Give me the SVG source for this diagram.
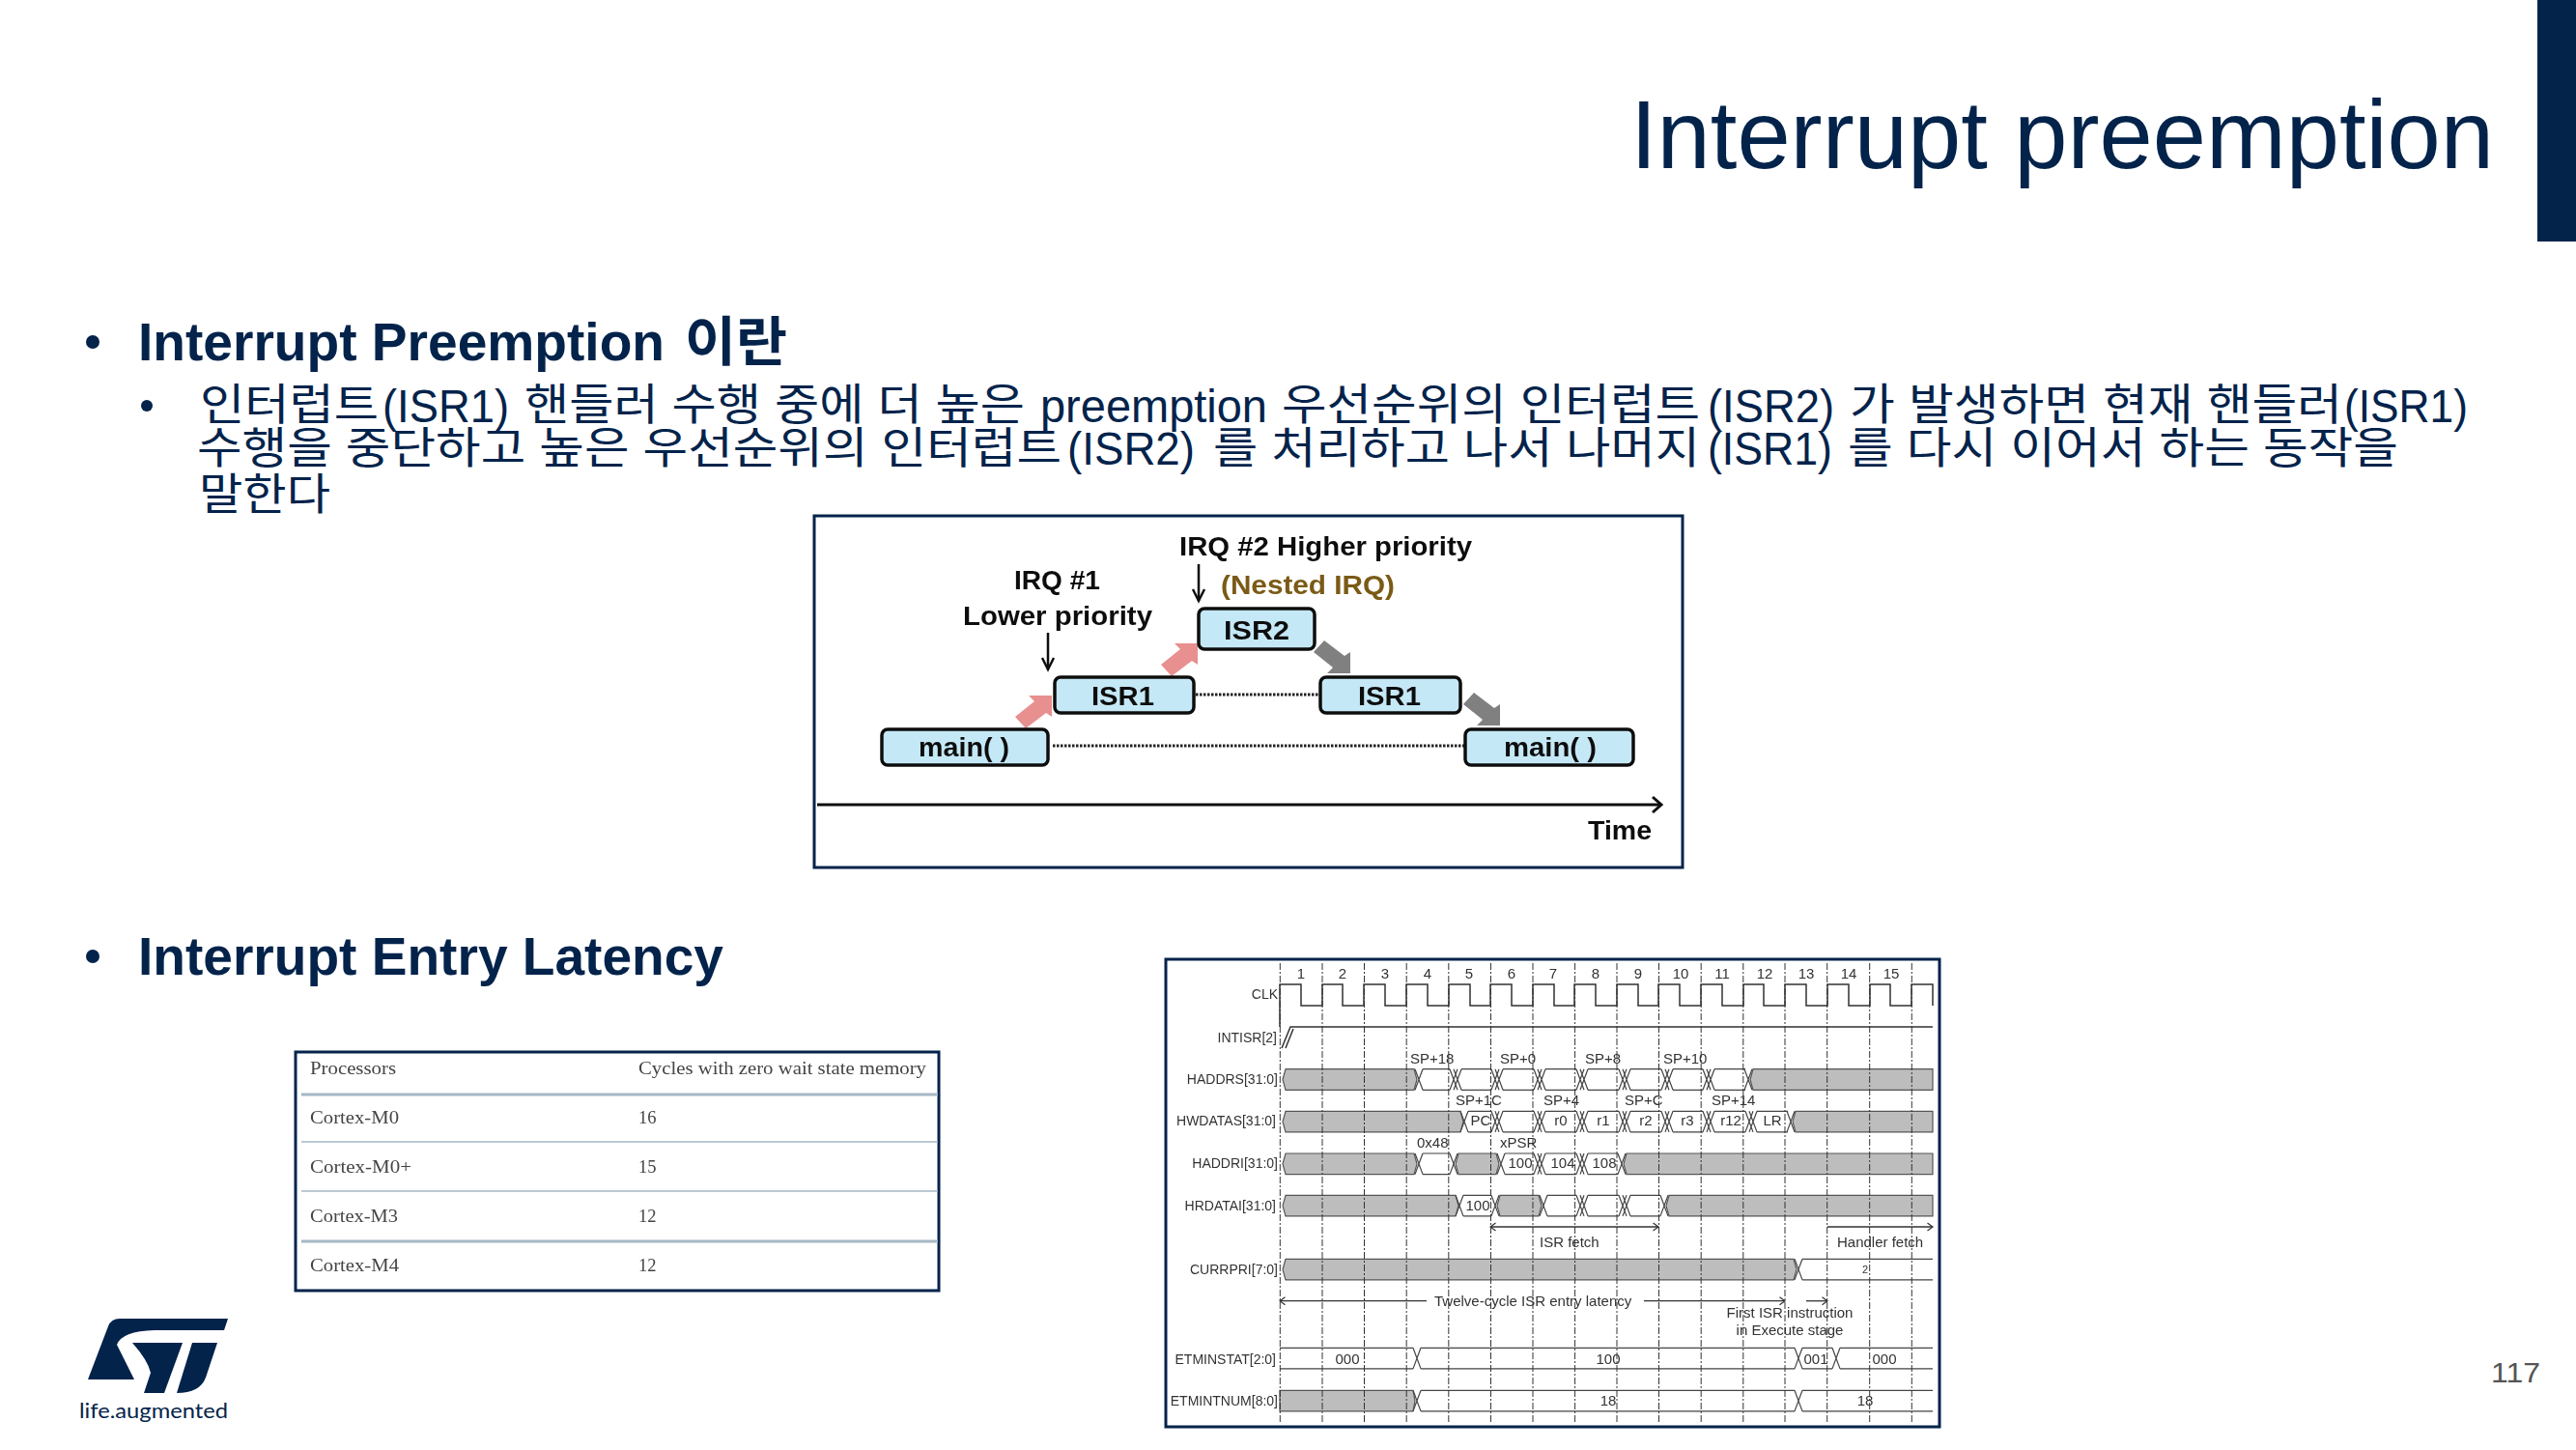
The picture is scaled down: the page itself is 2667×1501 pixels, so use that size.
<svg xmlns="http://www.w3.org/2000/svg" width="2667" height="1501" viewBox="0 0 2667 1501">
<style>
text{font-family:"Liberation Sans","Noto Sans CJK KR",sans-serif}
.nv{fill:#03234b}
.h1{font-size:55px;font-weight:bold;fill:#03234b}
.h2{font-size:45px;fill:#03234b}
.la{font-size:49px}
.frame{fill:#fff;stroke:#03234b;stroke-width:3}
.node{fill:#c5e8f6;stroke:#111;stroke-width:3.5}
.b{font-size:27px;font-weight:bold;fill:#111}
.dot{stroke:#222;stroke-width:3;stroke-dasharray:2.5 1.5;fill:none}
.thin{stroke:#111;stroke-width:2.5;fill:none}
.ser{font-family:"Liberation Serif",serif;font-size:18.5px;fill:#444}
.rule{stroke:#a5b8c5;fill:none}
.t{font-size:15px;fill:#333}
.s{font-size:14px;fill:#333;text-anchor:end}
.c{text-anchor:middle}
.g{fill:#bdbdbd;stroke:#555;stroke-width:1.2}
.w{fill:none;stroke:#444;stroke-width:1.2}
.sig{fill:none;stroke:#333;stroke-width:1.5}
.grid{stroke:#333;stroke-width:1;stroke-dasharray:7 2 2 2;fill:none}
.ar{fill:none;stroke:#333;stroke-width:1.3}
</style>
<defs>
<filter id="soft" x="-2%" y="-2%" width="104%" height="104%"><feGaussianBlur stdDeviation="0.4"/></filter>
<marker id="open" markerWidth="10" markerHeight="10" refX="8.5" refY="5" orient="auto-start-reverse" markerUnits="userSpaceOnUse"><path d="M3,1L8.5,5L3,9" fill="none" stroke="#333" stroke-width="1.2"/></marker>
<marker id="big" markerWidth="22" markerHeight="22" refX="19" refY="11" orient="auto" markerUnits="userSpaceOnUse"><path d="M10,3L19,11L10,19" fill="none" stroke="#111" stroke-width="3"/></marker>
<path id="fat" d="M0,0L-24,0L-18,6L-38,22L-27,34L-6,18L0,22Z"/>
<path id="x1" class="w" d="M-4,0L4,21.6M4,0L-4,21.6"/>
<path id="x2" class="w" d="M-6,0L2,21.6M2,0L-6,21.6M-2,0L6,21.6M6,0L-2,21.6"/>
</defs>

<g id="header">
<rect x="2627" y="0" width="40" height="250" class="nv"/>
<text x="1688" y="174" font-size="100" class="nv" textLength="894" lengthAdjust="spacingAndGlyphs">Interrupt preemption</text>
</g>

<g id="body-text">
<circle cx="96" cy="354" r="7" class="nv"/>
<text class="h1"><tspan x="143" y="373" textLength="545" lengthAdjust="spacingAndGlyphs">Interrupt Preemption</tspan> <tspan x="709" y="373" textLength="106" lengthAdjust="spacingAndGlyphs">이란</tspan></text>
<circle cx="152" cy="420" r="6" class="nv"/>
<text class="h2"><tspan x="207" y="435" textLength="185" lengthAdjust="spacingAndGlyphs">인터럽트</tspan><tspan class="la" x="396" y="437" textLength="131" lengthAdjust="spacingAndGlyphs">(ISR1)</tspan> <tspan x="543" y="435" textLength="518" lengthAdjust="spacingAndGlyphs">핸들러 수행 중에 더 높은</tspan> <tspan class="la" x="1077" y="437" textLength="235" lengthAdjust="spacingAndGlyphs">preemption</tspan> <tspan x="1327" y="435" textLength="433" lengthAdjust="spacingAndGlyphs">우선순위의 인터럽트</tspan><tspan class="la" x="1768" y="437" textLength="131" lengthAdjust="spacingAndGlyphs">(ISR2)</tspan> <tspan x="1915" y="435" textLength="510" lengthAdjust="spacingAndGlyphs">가 발생하면 현재 핸들러</tspan><tspan class="la" x="2427" y="437" textLength="128" lengthAdjust="spacingAndGlyphs">(ISR1)</tspan></text>
<text class="h2"><tspan x="204" y="480" textLength="895" lengthAdjust="spacingAndGlyphs">수행을 중단하고 높은 우선순위의 인터럽트</tspan><tspan class="la" x="1105" y="481" textLength="132" lengthAdjust="spacingAndGlyphs">(ISR2)</tspan> <tspan x="1256" y="480" textLength="504" lengthAdjust="spacingAndGlyphs">를 처리하고 나서 나머지</tspan><tspan class="la" x="1768" y="481" textLength="129" lengthAdjust="spacingAndGlyphs">(ISR1)</tspan> <tspan x="1913" y="480" textLength="570" lengthAdjust="spacingAndGlyphs">를 다시 이어서 하는 동작을</tspan></text>
<text class="h2" x="206" y="528" textLength="136" lengthAdjust="spacingAndGlyphs">말한다</text>
<circle cx="96" cy="990" r="7" class="nv"/>
<text x="143" y="1009" class="h1" textLength="606" lengthAdjust="spacingAndGlyphs">Interrupt Entry Latency</text>
<text x="2579" y="1431" font-size="30" fill="#555" textLength="51" lengthAdjust="spacingAndGlyphs">117</text>
</g>

<g id="preemption-diagram">
<rect x="843" y="534" width="899" height="364" class="frame"/>
<g filter="url(#soft)">
<g id="connectors">
<line class="dot" x1="1238" y1="719" x2="1366" y2="719"/>
<line class="dot" x1="1090" y1="772" x2="1516" y2="772"/>
<line x1="846" y1="833" x2="1720" y2="833" stroke="#111" stroke-width="3" marker-end="url(#big)"/>
<line class="thin" x1="1085" y1="655" x2="1085" y2="692"/>
<path class="thin" d="M1079,681L1085,693L1091,681"/>
<line class="thin" x1="1241" y1="584" x2="1241" y2="622"/>
<path class="thin" d="M1235,610L1241,622L1247,610"/>
<use href="#fat" fill="#e88f8f" transform="translate(1089,720)"/>
<use href="#fat" fill="#e88f8f" transform="translate(1240,666)"/>
<use href="#fat" fill="#808080" transform="translate(1398,697) scale(1,-1)"/>
<use href="#fat" fill="#808080" transform="translate(1553,751) scale(1,-1)"/>
</g>
<g id="node-main-1"><rect class="node" x="913" y="755" width="172" height="37" rx="6"/><text class="b" x="951" y="783" textLength="94" lengthAdjust="spacingAndGlyphs">main( )</text></g>
<g id="node-isr1-1"><rect class="node" x="1092" y="701" width="144" height="37" rx="6"/><text class="b" x="1130" y="730" textLength="65" lengthAdjust="spacingAndGlyphs">ISR1</text></g>
<g id="node-isr2"><rect class="node" x="1241" y="630" width="120" height="42" rx="6"/><text class="b" x="1267" y="662" textLength="68" lengthAdjust="spacingAndGlyphs">ISR2</text></g>
<g id="node-isr1-2"><rect class="node" x="1367" y="701" width="145" height="37" rx="6"/><text class="b" x="1406" y="730" textLength="65" lengthAdjust="spacingAndGlyphs">ISR1</text></g>
<g id="node-main-2"><rect class="node" x="1517" y="755" width="174" height="37" rx="6"/><text class="b" x="1557" y="783" textLength="96" lengthAdjust="spacingAndGlyphs">main( )</text></g>
<g id="preemption-labels">
<text class="b" x="1221" y="575" textLength="303" lengthAdjust="spacingAndGlyphs">IRQ #2 Higher priority</text>
<text class="b" x="1264" y="615" style="fill:#7a5a14" textLength="180" lengthAdjust="spacingAndGlyphs">(Nested IRQ)</text>
<text class="b" x="1050" y="610" textLength="89" lengthAdjust="spacingAndGlyphs">IRQ #1</text>
<text class="b" x="997" y="647" textLength="196" lengthAdjust="spacingAndGlyphs">Lower priority</text>
<text class="b" x="1644" y="869" textLength="66" lengthAdjust="spacingAndGlyphs">Time</text>
</g>
</g>
</g>

<g id="latency-table">
<rect x="306" y="1089" width="666" height="247" class="frame"/>
<g filter="url(#soft)">
<path class="rule" stroke-width="3" d="M312,1133H971M312,1285H971"/>
<path class="rule" stroke-width="1.5" d="M312,1182H971M312,1233H971"/>
<text class="ser" x="321" y="1112" textLength="89" lengthAdjust="spacingAndGlyphs">Processors</text>
<text class="ser" x="661" y="1112" textLength="298" lengthAdjust="spacingAndGlyphs">Cycles with zero wait state memory</text>
<text class="ser" x="321" y="1163" textLength="92" lengthAdjust="spacingAndGlyphs">Cortex-M0</text><text class="ser" x="661" y="1163">16</text>
<text class="ser" x="321" y="1214" textLength="105" lengthAdjust="spacingAndGlyphs">Cortex-M0+</text><text class="ser" x="661" y="1214">15</text>
<text class="ser" x="321" y="1265" textLength="91" lengthAdjust="spacingAndGlyphs">Cortex-M3</text><text class="ser" x="661" y="1265">12</text>
<text class="ser" x="321" y="1316" textLength="92" lengthAdjust="spacingAndGlyphs">Cortex-M4</text><text class="ser" x="661" y="1316">12</text>
</g>
</g>

<g id="logo">
<path class="nv" d="M91,1428L112,1373Q115,1365 124,1365H236L232,1377H160Q126,1378 121,1392L139,1428Z"/>
<path class="nv" d="M137,1390H189L170,1442H149L156,1421Q153,1408 137,1390Z"/>
<path class="nv" d="M199,1390H225L213,1426Q207,1442 183,1442Z"/>
<text x="82" y="1468" font-size="22" class="nv" textLength="154" lengthAdjust="spacingAndGlyphs" style="font-family:Lato,'Liberation Sans',sans-serif">life.augmented</text>
</g>

<g id="timing-diagram">
<rect x="1207" y="993" width="801" height="484" class="frame"/>
<g filter="url(#soft)">
<path class="sig" d="M1325,1063V1019H1347V1041H1369V1019H1390V1041H1412V1019H1434V1041H1456V1019H1478V1041H1500V1019H1522V1041H1543V1019H1565V1041H1587V1019H1609V1041H1630V1019H1652V1041H1674V1019H1696V1041H1717V1019H1739V1041H1761V1019H1783V1041H1805V1019H1826V1041H1848V1019H1870V1041H1892V1019H1914V1041H1936V1019H1957V1041H1979V1019H2001V1041"/>
<path class="sig" d="M1327,1085L1336,1063H2001M1331,1085L1339,1065"/>

<g transform="translate(0,1106.7)">
<path class="g" d="M1328,10.8L1331,0H1464L1467,10.8L1464,21.6H1331Z"/>
<use href="#x1" x="1469"/>
<path class="w" d="M1473,0H1501M1473,21.6H1501M1513,0H1544M1513,21.6H1544M1556,0H1588M1556,21.6H1588M1600,0H1632M1600,21.6H1632M1644,0H1676M1644,21.6H1676M1688,0H1720M1688,21.6H1720M1732,0H1763M1732,21.6H1763M1775,0H1807M1775,21.6H1807"/>
<use href="#x2" x="1507"/><use href="#x2" x="1550"/><use href="#x2" x="1594"/><use href="#x2" x="1638"/><use href="#x2" x="1682"/><use href="#x2" x="1726"/><use href="#x2" x="1769"/>
<use href="#x1" x="1810"/>
<path class="g" d="M1812,10.8L1815,0H2001V21.6H1815Z"/>
</g>

<g transform="translate(0,1150.3)">
<path class="g" d="M1328,10.8L1331,0H1512L1515,10.8L1512,21.6H1331Z"/>
<use href="#x1" x="1516"/>
<path class="w" d="M1520,0H1544M1520,21.6H1544M1556,0H1588M1556,21.6H1588M1600,0H1632M1600,21.6H1632M1644,0H1676M1644,21.6H1676M1688,0H1720M1688,21.6H1720M1732,0H1763M1732,21.6H1763M1775,0H1807M1775,21.6H1807M1819,0H1851M1819,21.6H1851"/>
<use href="#x2" x="1550"/><use href="#x2" x="1594"/><use href="#x2" x="1638"/><use href="#x2" x="1682"/><use href="#x2" x="1726"/><use href="#x2" x="1769"/><use href="#x2" x="1813"/>
<use href="#x1" x="1854"/>
<path class="g" d="M1856,10.8L1859,0H2001V21.6H1859Z"/>
</g>

<g transform="translate(0,1194)">
<path class="g" d="M1328,10.8L1331,0H1464L1467,10.8L1464,21.6H1331Z"/>
<use href="#x1" x="1469"/>
<path class="w" d="M1473,0H1501M1473,21.6H1501"/>
<use href="#x1" x="1505"/>
<path class="g" d="M1507,10.8L1510,0H1549L1552,10.8L1549,21.6H1510Z"/>
<use href="#x1" x="1554"/>
<path class="w" d="M1558,0H1588M1558,21.6H1588M1600,0H1632M1600,21.6H1632M1644,0H1675M1644,21.6H1675"/>
<use href="#x2" x="1594"/><use href="#x2" x="1638"/>
<use href="#x1" x="1679"/>
<path class="g" d="M1681,10.8L1684,0H2001V21.6H1684Z"/>
</g>

<g transform="translate(0,1237.3)">
<path class="g" d="M1328,10.8L1331,0H1507L1510,10.8L1507,21.6H1331Z"/>
<use href="#x1" x="1511"/>
<path class="w" d="M1515,0H1544M1515,21.6H1544"/>
<use href="#x1" x="1548"/>
<path class="g" d="M1550,10.8L1553,0H1593L1596,10.8L1593,21.6H1553Z"/>
<use href="#x1" x="1598"/>
<path class="w" d="M1602,0H1632M1602,21.6H1632M1644,0H1676M1644,21.6H1676M1688,0H1719M1688,21.6H1719"/>
<use href="#x2" x="1638"/><use href="#x2" x="1682"/>
<use href="#x1" x="1723"/>
<path class="g" d="M1725,10.8L1728,0H2001V21.6H1728Z"/>
</g>

<g transform="translate(0,1303.3)">
<path class="g" d="M1328,10.8L1331,0H1857L1860,10.8L1857,21.6H1331Z"/>
<use href="#x1" x="1862"/>
<path class="w" d="M1866,0H2001M1866,21.6H2001"/>
</g>

<g transform="translate(0,1395.3)">
<path class="w" d="M1325,0H1463M1325,21.6H1463M1471,0H1858M1471,21.6H1858M1866,0H1897M1866,21.6H1897M1905,0H2001M1905,21.6H2001"/>
<use href="#x1" x="1467"/><use href="#x1" x="1862"/><use href="#x1" x="1901"/>
</g>

<g transform="translate(0,1439.3)">
<path class="g" d="M1325,0H1463L1465,10.8L1463,21.6H1325Z"/>
<use href="#x1" x="1467"/>
<path class="w" d="M1471,0H1858M1471,21.6H1858M1866,0H2001M1866,21.6H2001"/>
<use href="#x1" x="1862"/>
</g>

<path class="grid" d="M1325.3,997V1472M1369,997V1472M1412.5,997V1472M1456.2,997V1472M1499.8,997V1472M1543.5,997V1472M1587,997V1472M1630.6,997V1472M1674,997V1472M1717.5,997V1472M1761.2,997V1472M1804.8,997V1472M1848,997V1472M1891.7,997V1472M1935.7,997V1472M1979.3,997V1472"/>

<path class="ar" marker-start="url(#open)" marker-end="url(#open)" d="M1543,1270H1717"/>
<path class="ar" marker-end="url(#open)" d="M1892,1270H2001"/>
<path class="ar" marker-start="url(#open)" d="M1325,1346.7H1477"/>
<path class="ar" marker-end="url(#open)" d="M1702,1346.7H1848"/>
<path class="ar" marker-end="url(#open)" d="M1870,1346.7H1892"/>

<g id="timing-labels">
<text class="t c" x="1347" y="1013">1</text><text class="t c" x="1390" y="1013">2</text><text class="t c" x="1434" y="1013">3</text><text class="t c" x="1478" y="1013">4</text><text class="t c" x="1521" y="1013">5</text><text class="t c" x="1565" y="1013">6</text><text class="t c" x="1608" y="1013">7</text><text class="t c" x="1652" y="1013">8</text><text class="t c" x="1696" y="1013">9</text><text class="t c" x="1740" y="1013">10</text><text class="t c" x="1783" y="1013">11</text><text class="t c" x="1827" y="1013">12</text><text class="t c" x="1870" y="1013">13</text><text class="t c" x="1914" y="1013">14</text><text class="t c" x="1958" y="1013">15</text>
<text class="s" x="1323" y="1034">CLK</text>
<text class="s" x="1322" y="1079">INTISR[2]</text>
<text class="s" x="1323" y="1122">HADDRS[31:0]</text>
<text class="s" x="1321" y="1165">HWDATAS[31:0]</text>
<text class="s" x="1323" y="1209">HADDRI[31:0]</text>
<text class="s" x="1321" y="1253">HRDATAI[31:0]</text>
<text class="s" x="1323" y="1319">CURRPRI[7:0]</text>
<text class="s" x="1321" y="1412">ETMINSTAT[2:0]</text>
<text class="s" x="1323" y="1455">ETMINTNUM[8:0]</text>
<text class="t" x="1460" y="1101">SP+18</text><text class="t" x="1553" y="1101">SP+0</text><text class="t" x="1641" y="1101">SP+8</text><text class="t" x="1722" y="1101">SP+10</text>
<text class="t" x="1507" y="1144">SP+1C</text><text class="t" x="1598" y="1144">SP+4</text><text class="t" x="1682" y="1144">SP+C</text><text class="t" x="1772" y="1144">SP+14</text>
<text class="t" x="1467" y="1188">0x48</text><text class="t" x="1553" y="1188">xPSR</text>
<text class="t c" x="1533" y="1165">PC</text><text class="t c" x="1616" y="1165">r0</text><text class="t c" x="1660" y="1165">r1</text><text class="t c" x="1704" y="1165">r2</text><text class="t c" x="1747" y="1165">r3</text><text class="t c" x="1792" y="1165">r12</text><text class="t c" x="1835" y="1165">LR</text>
<text class="t c" x="1574" y="1209">100</text><text class="t c" x="1618" y="1209">104</text><text class="t c" x="1661" y="1209">108</text>
<text class="t c" x="1530" y="1253">100</text>
<text class="t" x="1594" y="1291">ISR fetch</text>
<text class="t" x="1902" y="1291">Handler fetch</text>
<text class="t" x="1485" y="1352">Twelve-cycle ISR entry latency</text>
<text class="t c" x="1853" y="1364">First ISR instruction</text>
<text class="t c" x="1853" y="1382">in Execute stage</text>
<text class="t c" x="1395" y="1412">000</text><text class="t c" x="1665" y="1412">100</text><text class="t c" x="1880" y="1412">001</text><text class="t c" x="1951" y="1412">000</text>
<text class="t c" x="1665" y="1455">18</text><text class="t c" x="1931" y="1455">18</text>
<text class="t c" x="1931" y="1318" style="font-size:11px">2</text>
</g>
</g>
</g>
</svg>
